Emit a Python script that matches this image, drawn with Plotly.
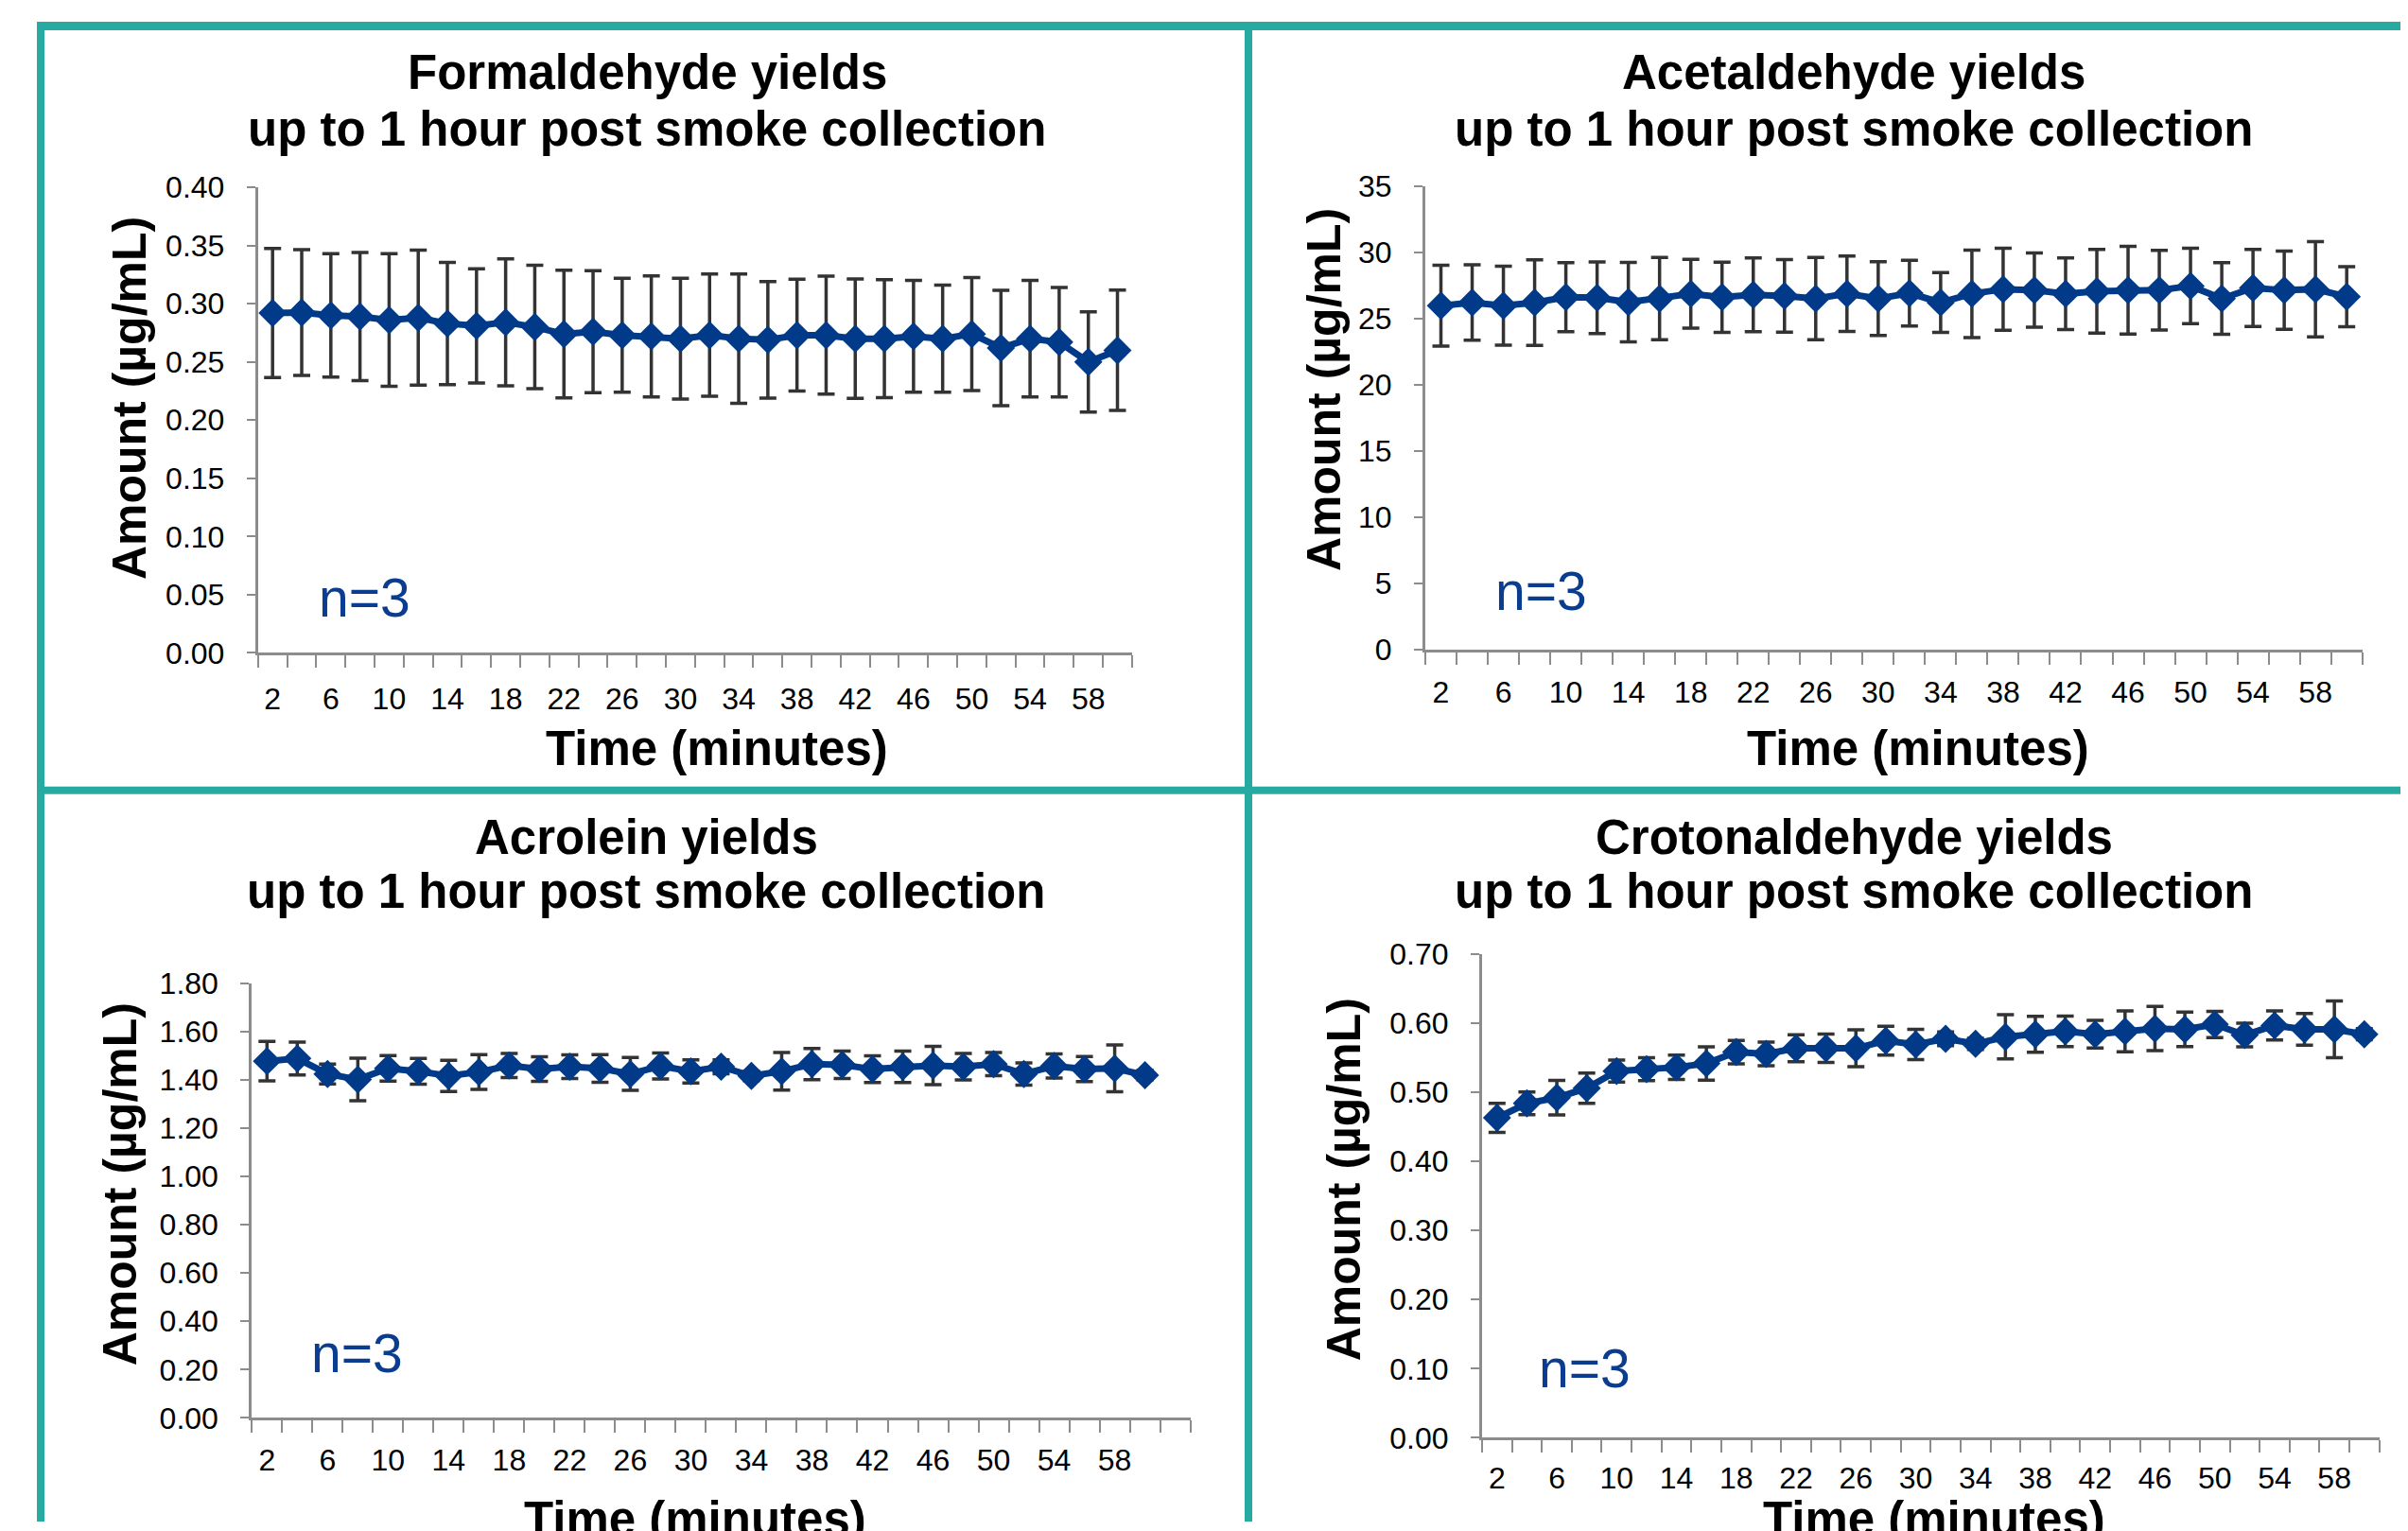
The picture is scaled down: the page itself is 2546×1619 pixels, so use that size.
import plotly.graph_objects as go

# ---------------- data ----------------
time_min = list(range(2, 62, 2))  # 2..60 minutes
tick_vals = list(range(2, 60, 4))
tick_text = [str(v) for v in tick_vals]

formaldehyde = [0.292, 0.2925, 0.290, 0.289, 0.286, 0.288, 0.283, 0.281, 0.284, 0.280,
                0.274, 0.276, 0.273, 0.272, 0.270, 0.273, 0.270, 0.269, 0.273, 0.273,
                0.270, 0.270, 0.272, 0.270, 0.274, 0.262, 0.270, 0.267, 0.250, 0.260]
formaldehyde_err = [0.0555, 0.054, 0.053, 0.055, 0.057, 0.058, 0.0525, 0.049, 0.0545, 0.053,
                    0.0548, 0.0525, 0.049, 0.052, 0.052, 0.0525, 0.0555, 0.050, 0.048, 0.0507,
                    0.0512, 0.0507, 0.048, 0.046, 0.0485, 0.0495, 0.050, 0.047, 0.043, 0.0517]

acetaldehyde = [25.96, 26.2, 25.96, 26.2, 26.6, 26.56, 26.23, 26.5, 26.86, 26.6,
                26.78, 26.7, 26.5, 26.86, 26.5, 26.9, 26.2, 26.86, 27.2, 27.13,
                26.86, 27.05, 27.13, 27.13, 27.45, 26.5, 27.3, 27.13, 27.2, 26.64]
acetaldehyde_err = [3.05, 2.85, 2.98, 3.23, 2.6, 2.7, 3.0, 3.1, 2.6, 2.65,
                    2.78, 2.74, 3.1, 2.85, 2.78, 2.48, 2.25, 3.3, 3.1, 2.8,
                    2.7, 3.15, 3.3, 3.0, 2.85, 2.7, 2.9, 2.95, 3.6, 2.27]

acrolein = [1.477, 1.488, 1.424, 1.401, 1.447, 1.435, 1.416, 1.432, 1.459, 1.444,
            1.454, 1.447, 1.424, 1.457, 1.435, 1.454, 1.416, 1.435, 1.465, 1.462,
            1.444, 1.454, 1.459, 1.454, 1.465, 1.424, 1.457, 1.444, 1.447, 1.419]
acrolein_err = [0.082, 0.068, 0.041, 0.088, 0.053, 0.053, 0.065, 0.072, 0.050, 0.051,
                0.049, 0.057, 0.068, 0.054, 0.048, 0.029, 0.020, 0.078, 0.065, 0.057,
                0.055, 0.065, 0.079, 0.055, 0.048, 0.046, 0.050, 0.052, 0.097, 0.020]

crotonaldehyde = [0.4629, 0.4838, 0.492, 0.5058, 0.5305, 0.5333, 0.536, 0.5415, 0.558, 0.5553,
                  0.5635, 0.5635, 0.5635, 0.5745, 0.569, 0.5772, 0.570, 0.580, 0.5838, 0.588,
                  0.5838, 0.588, 0.592, 0.591, 0.598, 0.5827, 0.5965, 0.591, 0.591, 0.5838]
crotonaldehyde_err = [0.021, 0.0165, 0.025, 0.022, 0.016, 0.0165, 0.0175, 0.024, 0.017, 0.017,
                      0.0195, 0.0206, 0.0267, 0.021, 0.022, 0.010, 0.008, 0.032, 0.026, 0.022,
                      0.020, 0.0297, 0.032, 0.025, 0.019, 0.017, 0.021, 0.023, 0.041, 0.008]

title_line1 = ["Formaldehyde yields", "Acetaldehyde yields", "Acrolein yields", "Crotonaldehyde yields"]
title_line2 = "up to 1 hour post smoke collection"
y_title = "Amount (µg/mL)"
x_title = "Time (minutes)"
n_label = "n=3"

# ---------------- layout geometry ----------------
FW, FH = 2530, 1619      # figure size
OX, OY = 8, 26           # where the figure lands in the photographed page
SY = 0.9775              # vertical scale observed in the photograph

FONT = "Liberation Sans, Arial, sans-serif"
NAVY = "#003A88"
ERRC = "#333333"
AXC = "#8C8C8C"
TEAL = "#27AAA1"


def fx(X):
    return (X - OX) / FW


def fy(Y):
    return 1 - ((Y - OY) / SY) / FH


panels = [
    dict(y=formaldehyde, e=formaldehyde_err, xr=[1, 61], yr=[0, 0.40], dt=0.05, fmt=".2f",
         box=(272.8, 1196.9, 198.1, 690.2), tx=684, ty=(76, 136), yt=(137, 421), xt=(758, 791),
         n=(385, 632), std=18),
    dict(y=acetaldehyde, e=acetaldehyde_err, xr=[1, 61], yr=[0, 35], dt=5, fmt="d",
         box=(1507.0, 2497.7, 196.5, 687.0), tx=1960, ty=(76, 136), yt=(1400, 412), xt=(2028, 791),
         n=(1629, 625), std=14),
    dict(y=acrolein, e=acrolein_err, xr=[1, 63], yr=[0, 1.80], dt=0.2, fmt=".2f",
         box=(266.3, 1258.6, 1039.4, 1499.0), tx=683, ty=(885, 942), yt=(127, 1252), xt=(735, 1606),
         n=(378, 1431), std=14),
    dict(y=crotonaldehyde, e=crotonaldehyde_err, xr=[1, 61], yr=[0, 0.70], dt=0.1, fmt=".2f",
         box=(1567.0, 2515.6, 1008.5, 1520.0), tx=1960, ty=(885, 942), yt=(1421, 1247), xt=(2045, 1606),
         n=(1675, 1447), std=12),
]

fig = go.Figure()
annotations = []
layout_axes = {}


def ann(text, X, Y, size, color="black", angle=0):
    return dict(text=text, x=fx(X), y=fy(Y), xref="paper", yref="paper", showarrow=False,
                xanchor="center", yanchor="middle", textangle=angle,
                font=dict(family=FONT, size=size, color=color))


for i, p in enumerate(panels, start=1):
    xa = "x" if i == 1 else f"x{i}"
    ya = "y" if i == 1 else f"y{i}"
    fig.add_trace(go.Scatter(
        x=time_min, y=p["y"], xaxis=xa, yaxis=ya, mode="lines+markers",
        line=dict(color=NAVY, width=7),
        marker=dict(symbol="diamond", size=23, color=NAVY),
        error_y=dict(type="data", array=p["e"], visible=True, color=ERRC, thickness=3.5, width=9),
        showlegend=False,
    ))
    x0, x1, y0, y1 = p["box"]
    xkey = "xaxis" if i == 1 else f"xaxis{i}"
    ykey = "yaxis" if i == 1 else f"yaxis{i}"
    layout_axes[xkey] = dict(
        domain=[fx(x0), fx(x1)], anchor=ya, range=p["xr"],
        tickmode="array", tickvals=tick_vals, ticktext=tick_text, ticks="",
        minor=dict(ticks="outside", tick0=1, dtick=2, ticklen=13, tickwidth=2, tickcolor=AXC),
        showline=True, linecolor=AXC, linewidth=3, showgrid=False, zeroline=False,
        tickfont=dict(family=FONT, size=32, color="black"), ticklabelstandoff=p["std"],
        fixedrange=True,
    )
    layout_axes[ykey] = dict(
        domain=[fy(y1), fy(y0)], anchor=xa, range=p["yr"], dtick=p["dt"], tick0=0,
        tickformat=p["fmt"], ticks="outside", ticklen=9, tickwidth=2, tickcolor=AXC,
        showline=True, linecolor=AXC, linewidth=3, showgrid=False, zeroline=False,
        tickfont=dict(family=FONT, size=32, color="black"), ticklabelstandoff=17,
        fixedrange=True,
    )
    annotations.append(ann(f"<b>{title_line1[i-1]}</b>", p["tx"], p["ty"][0], 51))
    annotations.append(ann(f"<b>{title_line2}</b>", p["tx"], p["ty"][1], 51))
    annotations.append(ann(f"<b>{y_title}</b>", p["yt"][0], p["yt"][1], 50, angle=-90))
    annotations.append(ann(f"<b>{x_title}</b>", p["xt"][0], p["xt"][1], 51))
    annotations.append(ann(n_label, p["n"][0], p["n"][1], 57, color="#0A3D8F"))

shapes = [
    dict(type="line", xref="paper", yref="paper", x0=fx(39), x1=1.0, y0=fy(27.5), y1=fy(27.5),
         line=dict(color=TEAL, width=9)),
    dict(type="line", xref="paper", yref="paper", x0=fx(43), x1=fx(43), y0=fy(23), y1=0,
         line=dict(color=TEAL, width=8)),
    dict(type="line", xref="paper", yref="paper", x0=fx(1320), x1=fx(1320), y0=fy(27), y1=0,
         line=dict(color=TEAL, width=8)),
    dict(type="line", xref="paper", yref="paper", x0=fx(39), x1=1.0, y0=fy(835.5), y1=fy(835.5),
         line=dict(color=TEAL, width=8)),
]

fig.update_layout(
    width=FW, height=FH, autosize=False, margin=dict(l=0, r=0, t=0, b=0),
    paper_bgcolor="white", plot_bgcolor="white",
    annotations=annotations, shapes=shapes, showlegend=False,
    font=dict(family=FONT),
    **layout_axes,
)

fig.write_html("out.html", config={"displayModeBar": False})
